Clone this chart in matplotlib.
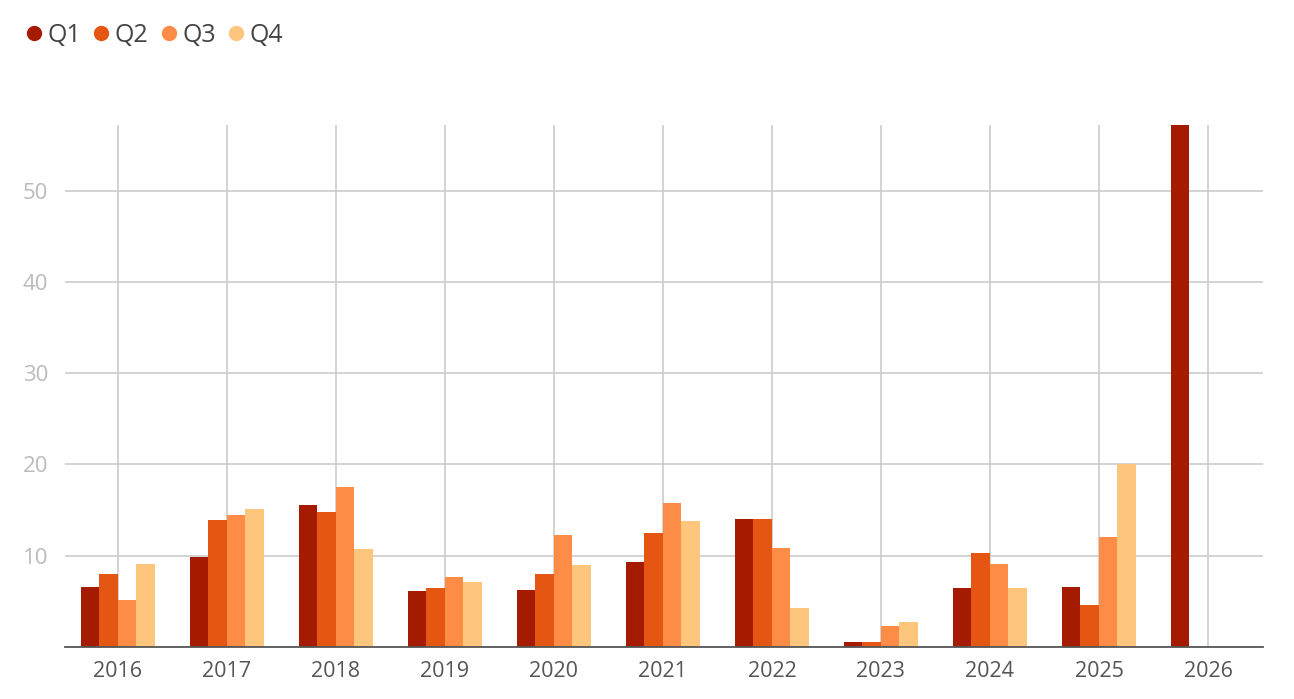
import numpy as np
from matplotlib import pyplot as plt
from matplotlib.lines import Line2D

plt.rcParams['font.family'] = ['Open Sans', 'DejaVu Sans']

# data
years = ['2016', '2017', '2018', '2019', '2020', '2021', '2022', '2023', '2024', '2025', '2026']
q1 = [6.6, 9.9, 15.6, 6.1, 6.3, 9.3, 14.0, 0.5, 6.5, 6.6, 58.0]
q2 = [8.0, 13.9, 14.8, 6.5, 8.0, 12.5, 14.0, 0.6, 10.3, 4.6, np.nan]
q3 = [5.1, 14.5, 17.5, 7.7, 12.3, 15.8, 10.9, 2.3, 9.1, 12.1, np.nan]
q4 = [9.1, 15.1, 10.7, 7.1, 9.0, 13.8, 4.3, 2.7, 6.5, 20.1, np.nan]
series = ['Q1', 'Q2', 'Q3', 'Q4']
colors = ['#a51b00', '#e45612', '#fd8c47', '#fec57c']

fig = plt.figure(figsize=(12.94, 6.99), dpi=100)
ax = fig.add_axes([65 / 1294, 1 - 647 / 699, (1263 - 65) / 1294, (647 - 125) / 699])

x = np.arange(len(years))
w = 0.17
for i, (vals, c) in enumerate(zip([q1, q2, q3, q4], colors)):
    ax.bar(x + (i - 1.5) * w, vals, width=w, color=c, zorder=3)

ax.set_xlim(-0.485, 10.505)
ax.set_ylim(0, 57.2)
ax.set_yticks([10, 20, 30, 40, 50])
ax.set_xticks(x)
ax.set_xticklabels(years)
ax.grid(True, color='#cccccc', linewidth=1.2, zorder=0)
ax.tick_params(length=0)
ax.tick_params(axis='y', labelcolor='#bbbbbb', labelsize=16, pad=12)
ax.tick_params(axis='x', labelcolor='#555555', labelsize=15.5, pad=10)
for s in ['top', 'right', 'left']:
    ax.spines[s].set_visible(False)
ax.spines['bottom'].set_color('#555555')
ax.spines['bottom'].set_linewidth(1.3)
ax.spines['bottom'].set_zorder(4)

handles = [Line2D([], [], marker='o', linestyle='', markersize=10, color=c) for c in colors]
leg = fig.legend(handles, series, loc='upper left', bbox_to_anchor=(0.0, 1.0), ncol=4,
                 frameon=False, fontsize=18, handletextpad=0.1, columnspacing=0.35,
                 handlelength=0.9)
for t in leg.get_texts():
    t.set_color('#444444')

plt.savefig('out.png', dpi=100)
